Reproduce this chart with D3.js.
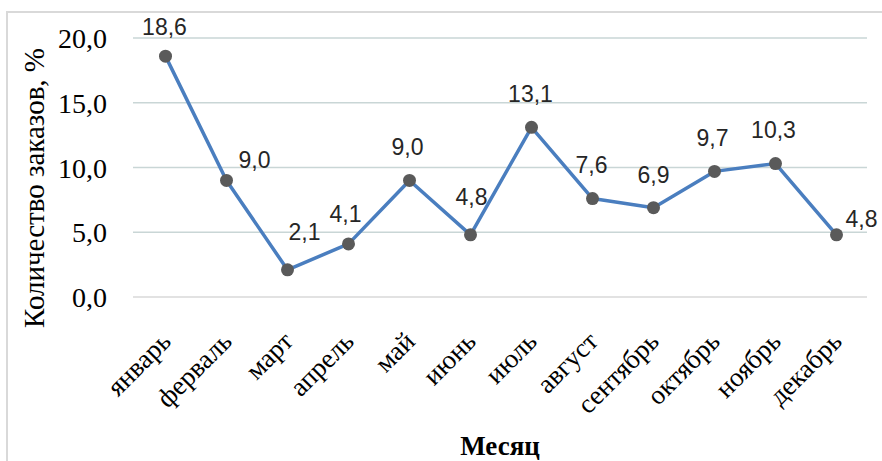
<!DOCTYPE html>
<html>
<head>
<meta charset="utf-8">
<script src="https://cdn.jsdelivr.net/npm/d3@7"></script>
<style>
  body { margin: 0; background: #fff; }
</style>
</head>
<body>
<div id="plot"></div>
<script>
// data
const months = ["январь", "ферваль", "март", "апрель", "май", "июнь",
    "июль", "август", "сентябрь", "октябрь", "ноябрь", "декабрь"];
const orders = [18.6, 9.0, 2.1, 4.1, 9.0, 4.8, 13.1, 7.6, 6.9, 9.7, 10.3, 4.8];
const yTicks = [0, 5, 10, 15, 20];

// label nudges (as placed in the original chart)
const labelDx = [-1, 28, 17, -3, -2, 1, -1, -1, 0, -2, -2, 25];
const labelDy = [-21, -12, -30, -22, -25, -30, -25, -26, -25, -25, -26, -8];

const width = 882, height = 461;
const serif = "Liberation Serif";
const sans = "Liberation Sans";

const svg = d3.select("#plot")
    .append("svg")
    .attr("width", width)
    .attr("height", height);

// outer frame
svg.append("rect")
    .attr("x", 7)
    .attr("y", 12)
    .attr("width", 890)
    .attr("height", 470)
    .attr("fill", "none")
    .attr("stroke", "#d9d9d9")
    .attr("stroke-width", 2);

const x = d3.scaleBand().domain(months).range([135, 867]);
const y = d3.scaleLinear().domain([0, 20]).range([297, 38]);

// gridlines
svg.selectAll("line.grid").data(yTicks).enter().append("line")
    .attr("class", "grid")
    .attr("x1", 133)
    .attr("x2", 867)
    .attr("y1", d => y(d))
    .attr("y2", d => y(d))
    .attr("stroke", d => d === 0 ? "#d9d9d9" : "#c9d6d6")
    .attr("stroke-width", 1.5);

// y tick labels
svg.selectAll("text.ytick").data(yTicks).enter().append("text")
    .attr("class", "ytick")
    .attr("x", 107)
    .attr("y", d => y(d) + 10)
    .attr("text-anchor", "end")
    .attr("font-family", serif)
    .attr("font-size", 28)
    .text(d => d3.format(".1f")(d).replace(".", ","));

// x tick labels
svg.selectAll("text.xtick").data(months).enter().append("text")
    .attr("class", "xtick")
    .attr("transform", d => `translate(${x(d) + x.bandwidth() / 2 + 7},343) rotate(-45)`)
    .attr("text-anchor", "end")
    .attr("font-family", serif)
    .attr("font-size", 27)
    .text(d => d);

// axis titles
svg.append("text")
    .attr("transform", "translate(44,188) rotate(-90)")
    .attr("text-anchor", "middle")
    .attr("font-family", serif)
    .attr("font-size", 29)
    .text("Количество заказов, %");

svg.append("text")
    .attr("x", 500)
    .attr("y", 455)
    .attr("text-anchor", "middle")
    .attr("font-family", serif)
    .attr("font-size", 27)
    .attr("font-weight", "bold")
    .text("Месяц");

// line
const cx = (d, i) => x(months[i]) + x.bandwidth() / 2;

const line = d3.line()
    .x(cx)
    .y(d => y(d));

svg.append("path")
    .datum(orders)
    .attr("d", line)
    .attr("fill", "none")
    .attr("stroke", "#4a7ebf")
    .attr("stroke-width", 3.5)
    .attr("stroke-linejoin", "round");

// markers
svg.selectAll("circle.pt").data(orders).enter().append("circle")
    .attr("class", "pt")
    .attr("cx", cx)
    .attr("cy", d => y(d))
    .attr("r", 6.5)
    .attr("fill", "#5a5a5a");

// data labels
svg.selectAll("text.val").data(orders).enter().append("text")
    .attr("class", "val")
    .attr("x", (d, i) => cx(d, i) + labelDx[i])
    .attr("y", (d, i) => y(d) + labelDy[i])
    .attr("text-anchor", "middle")
    .attr("font-family", sans)
    .attr("font-size", 23)
    .attr("fill", "#262626")
    .text(d => d3.format(".1f")(d).replace(".", ","));
</script>
</body>
</html>
